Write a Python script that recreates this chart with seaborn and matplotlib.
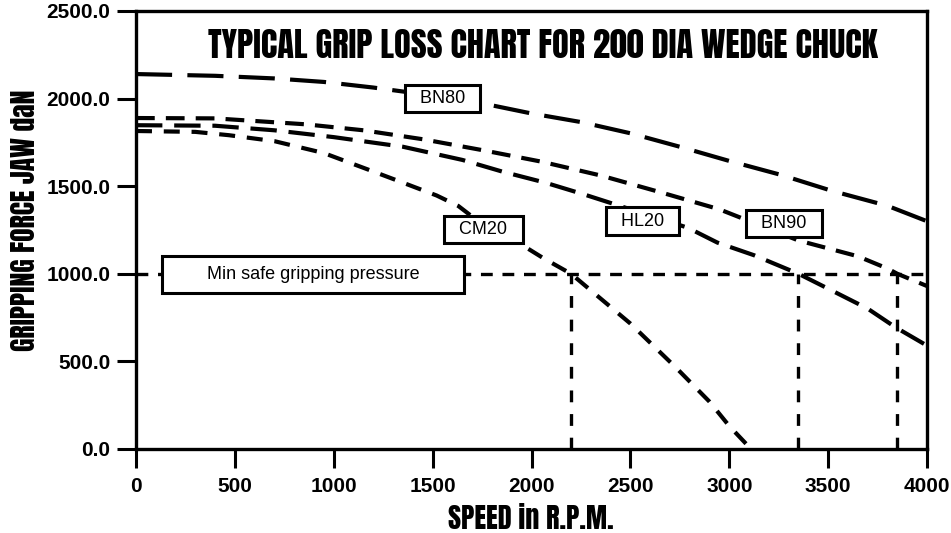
import matplotlib
matplotlib.use("Agg")
import matplotlib.pyplot as plt
from matplotlib import font_manager as fm
import seaborn as sns
import pandas as pd

# ---- data ----
bn80_speed = [0, 400, 700, 950, 1200, 1550, 1780, 2000, 2250, 2500, 2750, 3000, 3260, 3520, 3800, 4000]
bn80_force = [2140, 2130, 2115, 2095, 2063, 2010, 1966, 1915, 1866, 1802, 1725, 1644, 1565, 1473, 1388, 1300]

bn90_speed = [0, 400, 860, 1150, 1450, 1750, 2050, 2350, 2650, 2950, 3350, 3650, 3800, 3850, 4000]
bn90_force = [1889, 1887, 1853, 1819, 1768, 1706, 1640, 1561, 1466, 1368, 1190, 1100, 1030, 1000, 930]

hl20_speed = [0, 400, 700, 1000, 1350, 1650, 1850, 2070, 2260, 2790, 2940, 3125, 3350, 3500, 3700, 3840, 4000]
hl20_force = [1848, 1845, 1819, 1780, 1725, 1650, 1584, 1520, 1455, 1263, 1178, 1106, 1000, 915, 801, 695, 590]

cm20_speed = [0, 300, 470, 700, 950, 1190, 1310, 1520, 1630, 1690, 1960, 2060, 2200, 2500, 2730, 2900, 3000, 3110]
cm20_force = [1815, 1810, 1791, 1757, 1689, 1588, 1537, 1447, 1387, 1335, 1159, 1089, 1000, 716, 465, 270, 131, 0]

min_safe_force = 1000
cutoff_speeds = [2200, 3350, 3850]

x_ticks = [0, 500, 1000, 1500, 2000, 2500, 3000, 3500, 4000]
y_ticks = [0, 500, 1000, 1500, 2000, 2500]

labels = ["BN80", "BN90", "HL20", "CM20"]
label_pos = {"BN80": (1549, 2003), "BN90": (3277, 1288), "HL20": (2560, 1301), "CM20": (1757, 1251)}

title = "TYPICAL GRIP LOSS CHART FOR 200 DIA WEDGE CHUCK"
xlabel = "SPEED in R.P.M."
ylabel = "GRIPPING FORCE JAW daN"
min_label = "Min safe gripping pressure"


def pick_font(names, default="DejaVu Sans"):
    for n in names:
        try:
            fm.findfont(fm.FontProperties(family=n), fallback_to_default=False)
            return n
        except Exception:
            continue
    return default


# ---- style ----
sns.set_style("ticks")
body_font = pick_font(["Liberation Sans", "Arimo", "DejaVu Sans"])
heavy_font = pick_font(["Anton", "Oswald", "Fjalla One", "Roboto Condensed",
                        "Open Sans Condensed", "PT Sans Narrow", "Liberation Sans"])
plt.rcParams["font.family"] = [body_font, "DejaVu Sans"]
plt.rcParams["lines.scale_dashes"] = False
plt.rcParams["text.color"] = "black"
plt.rcParams["axes.labelcolor"] = "black"
plt.rcParams["xtick.color"] = "black"
plt.rcParams["ytick.color"] = "black"

fig = plt.figure(figsize=(9.51, 5.33), dpi=100)
ax = fig.add_axes([0.1430, 0.1576, 0.8318, 0.8218])

series = [
    (bn80_speed, bn80_force, (0, (26, 11))),
    (bn90_speed, bn90_force, (0, (13.5, 8))),
    (hl20_speed, hl20_force, (0, (19, 8.5))),
    (cm20_speed, cm20_force, (0, (11.5, 8.5))),
]
for sx, sy, ls in series:
    df = pd.DataFrame({"speed": sx, "force": sy})
    sns.lineplot(data=df, x="speed", y="force", ax=ax, color="black",
                 linewidth=3.0, linestyle=ls, sort=False, estimator=None,
                 solid_capstyle="butt", dash_capstyle="butt", zorder=2)

# minimum safe line and cut-off verticals
ax.hlines(min_safe_force, 0, 4000, colors="black", linewidth=2.4,
          linestyles=[(0, (8.5, 7))], zorder=2)
ax.vlines(cutoff_speeds, 0, min_safe_force, colors="black", linewidth=2.4,
          linestyles=[(0, (8.5, 8.5))], zorder=2)

ax.set_xlim(0, 4000)
ax.set_ylim(0, 2500)
ax.set_xticks(x_ticks)
ax.set_xticklabels([str(v) for v in x_ticks])
ax.set_yticks(y_ticks)
ax.set_yticklabels([f"{v:.1f}" for v in y_ticks])
ax.tick_params(axis="both", direction="out", length=13.5, width=2.2,
               labelsize=15, color="black", labelcolor="black")
ax.tick_params(axis="x", pad=7)
ax.tick_params(axis="y", pad=5)
for t in ax.get_xticklabels() + ax.get_yticklabels():
    t.set_fontweight("bold")
for s in ax.spines.values():
    s.set_visible(True)
    s.set_linewidth(2.4)
    s.set_color("black")

heavy = dict(family=[heavy_font, "DejaVu Sans"], fontweight="bold")
xl = ax.set_xlabel(xlabel, fontsize=17, **heavy)
yl = ax.set_ylabel(ylabel, fontsize=17, **heavy)
ax.xaxis.set_label_coords(0.4994, -0.128)
ax.yaxis.set_label_coords(-0.124, 0.523)
tt = ax.text(0.515, 0.922, title, transform=ax.transAxes, ha="center", va="center",
             fontsize=21, **heavy)

# fit the condensed heavy texts to the lengths seen in the reference
def fit(txt, target_px, along_x=True):
    for _ in range(2):
        fig.canvas.draw()
        bb = txt.get_window_extent(renderer=fig.canvas.get_renderer())
        size = bb.width if along_x else bb.height
        if size > 0:
            txt.set_fontsize(txt.get_fontsize() * target_px / size)

fit(tt, 673, True)
fit(yl, 262, False)
fit(xl, 165, True)

box = dict(boxstyle="square,pad=0.28", fc="white", ec="black", lw=2.2)
for lab in labels:
    x, y = label_pos[lab]
    ax.text(x, y, "  " + lab + "  ", ha="center", va="center", fontsize=13,
            bbox=box, zorder=5)
ax.text(895, 997, "       " + min_label + "       ", ha="center", va="center", fontsize=13,
        bbox=dict(boxstyle="square,pad=0.55", fc="white", ec="black", lw=2.2), zorder=5)

fig.savefig("out.png", dpi=100)
